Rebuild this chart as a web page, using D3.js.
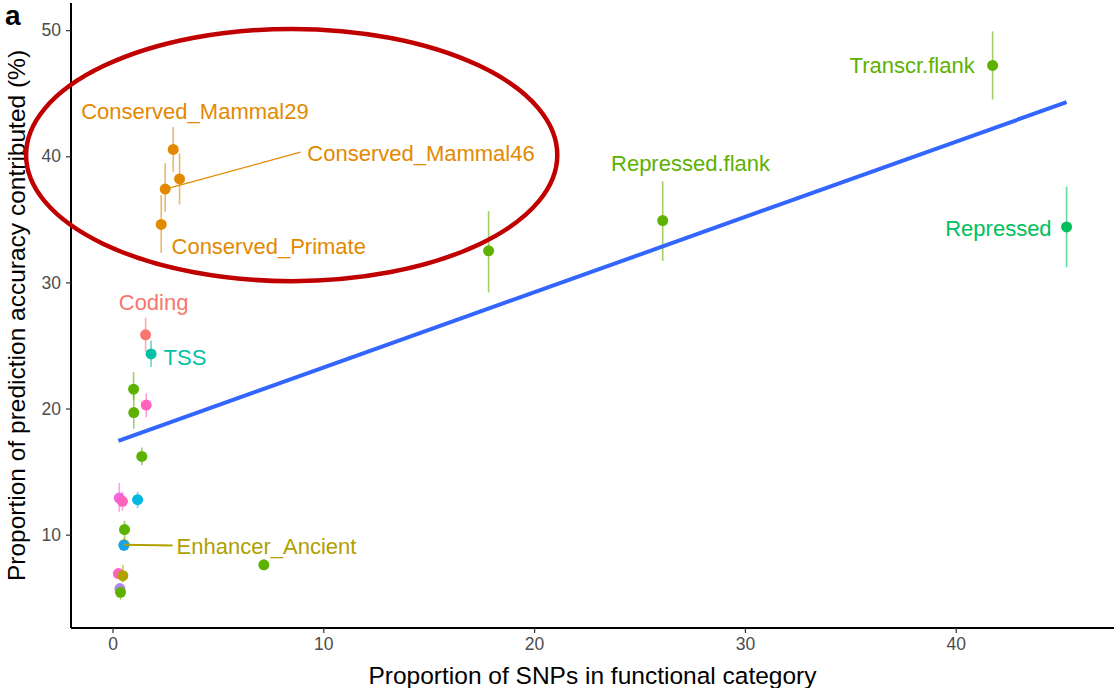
<!DOCTYPE html>
<html><head><meta charset="utf-8">
<script src="https://cdn.jsdelivr.net/npm/d3@7"></script>
<style>body{margin:0;background:#fff}svg{display:block;font-family:"Liberation Sans",Arial,sans-serif}</style>
</head><body>
<svg id="c" width="1114" height="688"></svg>
<script>
// ---- data ----
const groups = ["Coding","Conserved","Enhancer","State","Repressed","TSS","Cyan","Blue","Purple","Magenta","Pink"];
const groupColors = ["#F8766D","#E38900","#B0A000","#5DB100","#00BF5A","#00C1A3","#00B8E2","#14A5F2","#B385FF","#EE67E9","#FF62BC"];
const pointX  = [41.75,45.26,26.10,17.84,7.18, 2.88,3.18,2.50,2.31, 1.57,1.83, 1.00,1.01,1.60,1.39, 0.32,0.47,1.19, 0.57,0.55,0.54, 0.28,0.49,0.35,0.38];
const pointY  = [47.20,34.40,34.90,32.50,7.61, 40.54,38.20,37.40,34.60, 25.84,24.33, 21.53,19.68,20.27,16.20, 12.90,12.64,12.77, 10.40,9.20,9.15, 6.91,6.75,5.72,5.43];
const pointLo = [44.50,31.20,31.70,29.20,7.35, 38.77,36.17,35.60,32.33, 24.50,23.30, 20.70,18.40,19.30,15.50, 11.80,11.90,12.10, 9.60,8.70,8.80, 6.50,6.20,5.30,4.85];
const pointHi = [49.90,37.60,38.00,35.65,7.85, 42.33,40.22,39.45,36.93, 27.20,25.40, 22.90,21.10,21.20,16.90, 14.10,13.40,13.40, 11.10,9.70,9.50, 7.30,7.60,6.10,5.90];
const pointGroup = ["State","Repressed","State","State","State","Conserved","Conserved","Conserved","Conserved","Coding","TSS","State","State","Pink","State","Magenta","Pink","Cyan","State","Enhancer","Blue","Pink","Enhancer","Purple","State"];
// labels: text, point index, label x, label y, anchor, segment end x/y (null = none)
const labelText  = ["Transcr.flank","Repressed","Repressed.flank","Conserved_Mammal29","Conserved_Mammal46","Conserved_Primate","Coding","TSS","Enhancer_Ancient"];
const labelPoint = [0,1,2,5,7,8,9,10,19];
const labelX     = [40.90,44.55,27.42,3.91,9.24,2.80,1.95,2.42,3.04];
const labelY     = [47.20,34.30,39.45,43.55,40.25,32.90,28.40,24.10,9.13];
const labelAnchor= ["end","end","middle","middle","start","start","middle","start","start"];
const segEndX    = [null,null,null,null,8.92,null,null,null,2.85];
const segEndY    = [null,null,null,null,40.33,null,null,null,9.13];
// linear fit (lm) coefficients
const fitIntercept = 17.27, fitSlope = 0.597;
// highlight ellipse (data units)
const ellipseCx = 8.5, ellipseCy = 40.1, ellipseRx = 12.6, ellipseRy = 10.0;
const xTicks = [0,10,20,30,40];
const yTicks = [10,20,30,40,50];
const xTitle = "Proportion of SNPs in functional category";
const yTitle = "Proportion of prediction accuracy contributed (%)";
const panelTag = "a";

// ---- drawing ----
const FONT = "Liberation Sans, Arial, sans-serif";
const svg = d3.select("#c");
const color = d3.scaleOrdinal(groups, groupColors);
const L = 71, R = 1114, T = 3, B = 628;
const xmin = d3.min(pointX), xmax = d3.max(pointX);
const ymin = d3.min(pointLo), ymax = d3.max(pointHi);
const ex = (xmax - xmin) * 0.05, ey = (ymax - ymin) * 0.05;
const x = d3.scaleLinear().domain([xmin - ex, xmax + ex]).range([L, R]);
const y = d3.scaleLinear().domain([ymin - ey, ymax + ey]).range([B, T]);

const pts = pointX.map((v, i) => ({x: v, y: pointY[i], lo: pointLo[i], hi: pointHi[i], g: pointGroup[i]}));

// error bars
svg.append("g").selectAll("line").data(pts).join("line")
  .attr("x1", d => x(d.x)).attr("x2", d => x(d.x))
  .attr("y1", d => y(d.lo)).attr("y2", d => y(d.hi))
  .attr("stroke", d => color(d.g)).attr("stroke-opacity", 0.6).attr("stroke-width", 1.6);

// fit line
svg.append("path")
  .datum([xmin, xmax])
  .attr("d", d3.line().x(d => x(d)).y(d => y(fitIntercept + fitSlope * d)))
  .attr("stroke", "#3366FF").attr("stroke-width", 4).attr("fill", "none");

const labs = labelText.map((t, i) => ({t, p: pts[labelPoint[i]], lx: labelX[i], ly: labelY[i], a: labelAnchor[i], sx: segEndX[i], sy: segEndY[i]}));

// points
svg.append("g").selectAll("circle").data(pts).join("circle")
  .attr("cx", d => x(d.x)).attr("cy", d => y(d.y)).attr("r", 5.5)
  .attr("fill", d => color(d.g));

// label segments
svg.append("g").selectAll("line").data(labs.filter(d => d.sx !== null)).join("line")
  .attr("x1", d => x(d.p.x)).attr("y1", d => y(d.p.y))
  .attr("x2", d => x(d.sx)).attr("y2", d => y(d.sy))
  .attr("stroke", d => color(d.p.g)).attr("stroke-width", d => d.t === "Enhancer_Ancient" ? 2 : 1.2);

svg.append("g").selectAll("text").data(labs).join("text")
  .attr("x", d => x(d.lx)).attr("y", d => y(d.ly)).attr("dy", "0.36em")
  .attr("text-anchor", d => d.a).attr("font-size", 22).attr("font-family", FONT)
  .attr("fill", d => color(d.p.g)).text(d => d.t);

// axes
const xAxis = svg.append("g").attr("transform", `translate(0,${B})`)
  .call(d3.axisBottom(x).tickValues(xTicks).tickSize(5).tickSizeOuter(0).tickPadding(5));
const yAxis = svg.append("g").attr("transform", `translate(${L},0)`)
  .call(d3.axisLeft(y).tickValues(yTicks).tickSize(5).tickSizeOuter(0).tickPadding(5));
[xAxis, yAxis].forEach(a => {
  a.select(".domain").attr("stroke", "#000").attr("stroke-width", 2);
  a.selectAll(".tick line").attr("stroke", "#333").attr("stroke-width", 1.2);
  a.selectAll(".tick text").attr("fill", "#4D4D4D").attr("font-size", 17.5).attr("font-family", FONT);
});
xAxis.select(".domain").attr("d", `M${L},0H${R}`);
yAxis.select(".domain").attr("d", `M0,${T}V${B}`);

svg.append("text").attr("x", (L + R) / 2).attr("y", 684).attr("text-anchor", "middle")
  .attr("font-family", FONT).attr("font-size", 24.5).attr("fill", "#000").text(xTitle);
svg.append("text").attr("transform", `translate(25,${(T + B) / 2}) rotate(-90)`)
  .attr("text-anchor", "middle").attr("font-family", FONT).attr("font-size", 24.5).attr("fill", "#000").text(yTitle);
svg.append("text").attr("x", 5).attr("y", 25).attr("font-family", FONT)
  .attr("font-size", 28).attr("font-weight", "bold").attr("fill", "#000").text(panelTag);

// ellipse annotation
svg.append("ellipse")
  .attr("cx", x(ellipseCx)).attr("cy", y(ellipseCy))
  .attr("rx", x(ellipseCx + ellipseRx) - x(ellipseCx)).attr("ry", y(ellipseCy - ellipseRy) - y(ellipseCy))
  .attr("fill", "none").attr("stroke", "#C00000").attr("stroke-width", 4.5);
</script>
</body></html>
